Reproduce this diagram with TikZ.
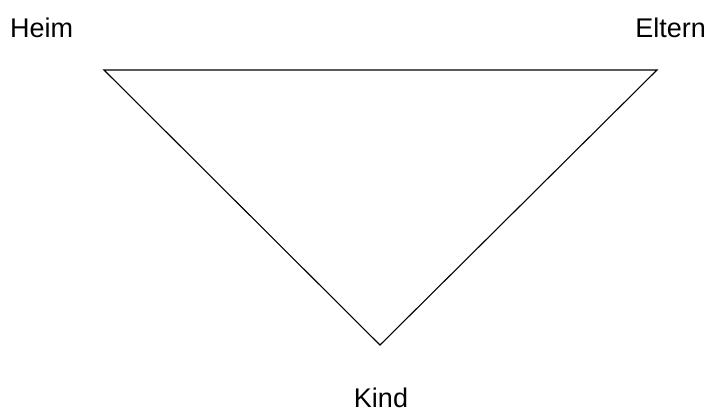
\documentclass[tikz,border=0pt]{standalone}
\usepackage{fontspec}
\setmainfont{Liberation Sans}
\begin{document}
\begin{tikzpicture}[x=1pt, y=-1pt, every node/.style={font=\fontsize{27}{31}\selectfont, inner sep=0pt}]
	\useasboundingbox (0,0) rectangle (709,410);
	\coordinate (heimpt) at (104,70); \coordinate (elternpt) at (657,70); \coordinate (kindpt) at (380,345);
	\draw[line width=1.1pt] (heimpt) -- (elternpt) -- (kindpt) -- cycle;
	\node[anchor=base west] (heim) at (10,37) {Heim};
	\node[anchor=base east] (eltern) at (706,37) {Eltern};
	\node[anchor=base] (kind) at (381,407) {Kind};
\end{tikzpicture}
\end{document}
